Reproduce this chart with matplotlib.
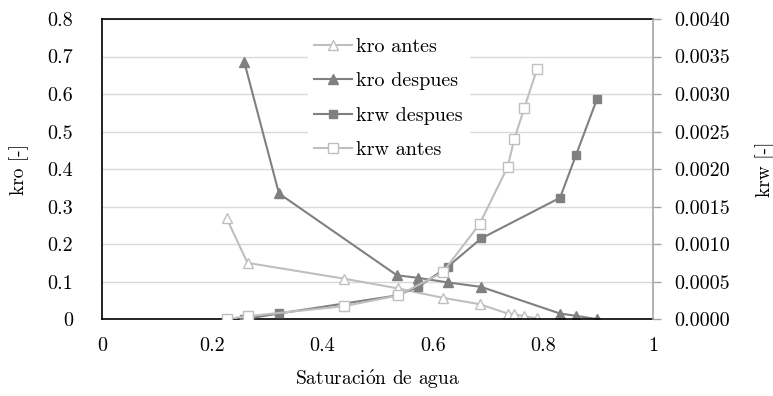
import numpy as np
import matplotlib.pyplot as plt
from matplotlib.ticker import FuncFormatter, MultipleLocator

plt.rcParams['font.family'] = ['cmr10', 'DejaVu Serif']
plt.rcParams['axes.formatter.use_mathtext'] = True
plt.rcParams['mathtext.fontset'] = 'cm'

# saturacion de agua (eje x)
sw_antes = [0.226, 0.264, 0.439, 0.537, 0.618, 0.685, 0.736, 0.748, 0.766, 0.789]
sw_despues = [0.258, 0.321, 0.535, 0.574, 0.627, 0.688, 0.831, 0.860, 0.898]

# permeabilidades relativas
kro_antes = [0.269, 0.150, 0.108, 0.082, 0.057, 0.040, 0.015, 0.013, 0.008, 0.002]
kro_despues = [0.686, 0.335, 0.117, 0.110, 0.098, 0.086, 0.015, 0.009, 0.000]
krw_despues = [0.0, 0.000076, 0.000316, 0.000431, 0.000698, 0.001076, 0.001618, 0.002187, 0.002933]
krw_antes = [0.0, 0.00004, 0.000173, 0.000316, 0.000623, 0.001267, 0.00203, 0.0024, 0.00281, 0.00333]

light = '#BFBFBF'
dark = '#808080'

fig = plt.figure(figsize=(7.73, 3.96), dpi=100)
ax = fig.add_axes([0.132, 0.194, 0.713, 0.758])
ax2 = ax.twinx()

l1, = ax.plot(sw_antes, kro_antes, color=light, lw=1.5, marker='^', ms=7,
              mfc='white', mec=light, mew=1.0, label='kro antes')
l2, = ax.plot(sw_despues, kro_despues, color=dark, lw=1.5, marker='^', ms=7,
              mfc=dark, mec=dark, label='kro despues')
l3, = ax2.plot(sw_despues, krw_despues, color=dark, lw=1.5, marker='s', ms=6,
               mfc=dark, mec=dark, label='krw despues')
l4, = ax2.plot(sw_antes, krw_antes, color=light, lw=1.5, marker='s', ms=6.5,
               mfc='white', mec=light, mew=1.0, label='krw antes')

ax.set_xlim(0, 1)
ax.set_ylim(0, 0.8)
ax2.set_ylim(0, 0.004)

ax.xaxis.set_major_locator(MultipleLocator(0.2))
ax.yaxis.set_major_locator(MultipleLocator(0.1))
ax2.yaxis.set_major_locator(MultipleLocator(0.0005))

ax.xaxis.set_major_formatter(FuncFormatter(lambda v, p: '%g' % round(v, 2)))
ax.yaxis.set_major_formatter(FuncFormatter(lambda v, p: '%g' % round(v, 2)))
ax2.yaxis.set_major_formatter(FuncFormatter(lambda v, p: '%.4f' % v))

ax.grid(axis='y', color='#D9D9D9', lw=1.0)
ax.set_axisbelow(True)

for s in ['left', 'bottom', 'top']:
    ax.spines[s].set_color('black')
    ax.spines[s].set_linewidth(1.2)
ax.spines['right'].set_visible(False)
for s in ['left', 'bottom', 'top']:
    ax2.spines[s].set_visible(False)
ax2.spines['right'].set_color('#A6A6A6')
ax2.spines['right'].set_linewidth(1.2)

ax.tick_params(axis='both', length=0, labelsize=14.5)
ax.tick_params(axis='y', pad=21)
ax.tick_params(axis='x', pad=13)
ax2.tick_params(axis='y', length=6, color='#A6A6A6', width=1.0, labelsize=14.5, pad=9)

ax.set_xlabel('Saturaci$\\acute{\\mathrm{o}}$n de agua', fontsize=14, labelpad=9)
ax.set_ylabel('kro [-]', fontsize=14, labelpad=13)
ax2.set_ylabel('krw [-]', fontsize=14, labelpad=18)

leg = ax.legend(handles=[l1, l2, l3, l4], loc='upper center',
                bbox_to_anchor=(0.52, 0.99), fontsize=14.5, frameon=True,
                framealpha=1, edgecolor='white', fancybox=False,
                handlelength=1.9, handletextpad=0.2, labelspacing=0.8,
                borderpad=0.3)
ax2.set_zorder(ax.get_zorder() + 1)
ax2.patch.set_visible(False)
# legend above both axes
leg.remove()
ax2.add_artist(leg)

fig.savefig('out.png', dpi=100)
